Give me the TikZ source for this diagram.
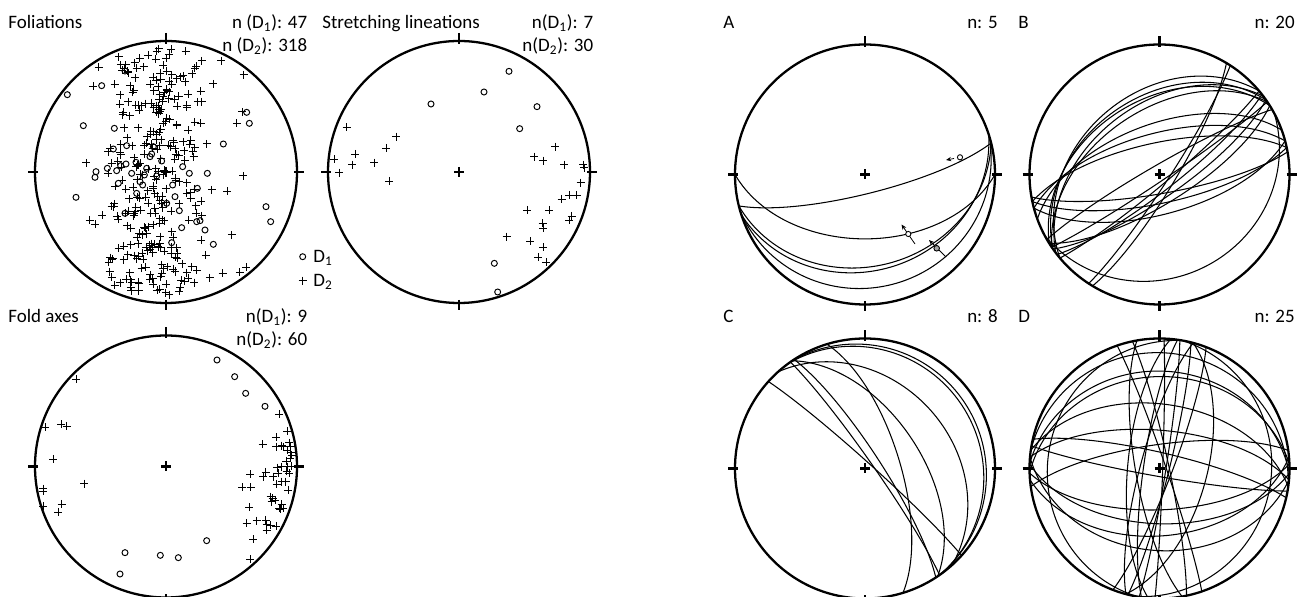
\documentclass[tikz,border=0pt]{standalone}
\usepackage{fontspec}
\setmainfont{Carlito}
\usetikzlibrary{arrows.meta}
\newcommand{\lblfont}{\fontsize{10.8}{13}\selectfont}
% primitive circle with ticks and centre cross
\newcommand{\stereonet}[3]{%
	\begin{scope}[shift={(#1,#2)}]
		\draw[rim] (0,0) circle (#3);
		\draw[rim] (0,-#3-8) -- (0,-#3+3);
		\draw[rim] (0,#3-3) -- (0,#3+7);
		\draw[rim] (-#3-7,0) -- (-#3+3,0);
		\draw[rim] (#3-3,0) -- (#3+7,0);
		\draw[rim] (-5,0) -- (5,0) (0,-5) -- (0,5);
	\end{scope}}
% great circle, lower hemisphere equal area: strike #1, dip #2
\newcommand{\gc}[2]{\draw[gcirc] plot[domain=0:180, samples=90, smooth]
	({\Rr*(cos(\x)*sin(#1)+sin(\x)*cos(#2)*cos(#1))/sqrt(1+sin(\x)*sin(#2))},
	{\Rr*(cos(\x)*cos(#1)-sin(\x)*cos(#2)*sin(#1))/sqrt(1+sin(\x)*sin(#2))});}
% poles: D1 circle, D2 cross
\newcommand{\Done}[2]{\draw[ptline] (#1,#2) circle (3);}
\newcommand{\Dtwo}[2]{\draw[ptline] (#1,#2) +(-4,0) -- +(4,0) +(0,-4) -- +(0,4);}
\tikzset{
	rim/.style={line width=1.3pt},
	gcirc/.style={line width=0.6pt},
	ptline/.style={line width=0.55pt},
	lbl/.style={inner sep=0pt, font=\lblfont},
}
\begin{document}
\begin{tikzpicture}[x=0.02cm, y=-0.02cm]
	%%%%% START %%%%%
	\def\R{131}
	\def\Rr{130}
	\useasboundingbox (0,0) rectangle (1309,597);
	
	\stereonet{166}{172}{\R}
	\stereonet{459}{172}{\R}
	\stereonet{166}{466.5}{\R}
	\stereonet{865}{174.5}{\Rr}
	\stereonet{1159.5}{174.5}{\Rr}
	\stereonet{865}{468.5}{\Rr}
	\stereonet{1159.5}{468.5}{\Rr}
	
	% titles and counts
	\node[lbl, anchor=base west] (folTitle) at (8,28.5) {Foliations};
	\node[lbl, anchor=base east] (folNone) at (307.5,28.5) {n (D\textsubscript{1}): 47};
	\node[lbl, anchor=base east] (folNtwo) at (307.5,51.5) {n (D\textsubscript{2}): 318};
	\node[lbl, anchor=base west] (strTitle) at (322,28.5) {Stretching lineations};
	\node[lbl, anchor=base east] (strNone) at (593.5,28.5) {n(D\textsubscript{1}): 7};
	\node[lbl, anchor=base east] (strNtwo) at (593.5,51.5) {n(D\textsubscript{2}): 30};
	\node[lbl, anchor=base west] (fldTitle) at (8,322.5) {Fold axes};
	\node[lbl, anchor=base east] (fldNone) at (307.5,322.5) {n(D\textsubscript{1}): 9};
	\node[lbl, anchor=base east] (fldNtwo) at (307.5,345.5) {n(D\textsubscript{2}): 60};
	\node[lbl, anchor=base west] (aTitle) at (723,28.5) {A};
	\node[lbl, anchor=base east] (aN) at (998,28.5) {n: 5};
	\node[lbl, anchor=base west] (bTitle) at (1018,28.5) {B};
	\node[lbl, anchor=base east] (bN) at (1295,28.5) {n: 20};
	\node[lbl, anchor=base west] (cTitle) at (723,322.5) {C};
	\node[lbl, anchor=base east] (cN) at (998,322.5) {n: 8};
	\node[lbl, anchor=base west] (dTitle) at (1018,322.5) {D};
	\node[lbl, anchor=base east] (dN) at (1295,322.5) {n: 25};
	
	% legend
	\Done{302.7}{256.7}
	\node[lbl, anchor=base west] (legOne) at (313,263) {D\textsubscript{1}};
	\Dtwo{302.7}{280.7}
	\node[lbl, anchor=base west] (legTwo) at (313,286.7) {D\textsubscript{2}};
	
	% foliations, D2 cloud
	\begin{scope}[shift={(166,172)}]
		\pgfmathsetseed{2718}
		\foreach \i in {1,...,318}{
			\pgfmathsetmacro\fy{0.94*rand}
			\pgfmathsetmacro\fx{ifthenelse(mod(\i,10)==0, 0.72*rand, -0.06-0.05*(\fy)+0.22*(rand+rand))}
			\pgfmathsetmacro\fs{min(1,0.95/max(sqrt(\fx*\fx+\fy*\fy),0.01))}
			\Dtwo{\fs*\fx*\R}{\fs*\fy*\R}
		}
	\end{scope}
	% foliations, D1
	\foreach \zx/\zy in {202/284, 305/257, 375/213, 250/377, 740/337, 748/370,
		670/432, 343/385, 380/437, 340/447, 455/462, 485/483, 408/487, 378/492,
		362/497, 350/512, 322/505, 288/515, 285/532, 548/500, 568/520, 622/520,
		440/505, 433/525, 355/550, 428/555, 592/565, 518/555, 525/590, 228/592,
		798/620, 812/665, 538/632, 545/683, 590/665, 600/662, 615/690, 640/733,
		515/728, 470/528, 420/545, 450/470, 395/520, 460/440, 500/610, 375/640, 410/580}
		{\Done{\zx/3}{\zy/3}}
	
	% stretching lineations
	\foreach \zx/\zy in {597/214, 522/276, 363/312, 681/320, 629/386, 553/790, 563/876}
		{\Done{310+\zx/3}{\zy/3}}
	\foreach \zx/\zy in {110/382, 258/410, 228/444, 135/462, 72/478, 127/494,
		193/488, 88/518, 238/543, 735/440, 673/470, 700/482, 763/494, 820/494,
		822/503, 812/548, 778/585, 800/585, 755/597, 652/630, 718/630, 785/648,
		778/660, 698/670, 700/684, 590/710, 660/724, 700/742, 685/772, 708/787}
		{\Dtwo{310+\zx/3}{\zy/3}}
	
	% fold axes
	\foreach \zx/\zy in {651/180, 704/230, 737/280, 795/319, 620/722, 375/758,
		481/766, 535/773, 360/822}
		{\Done{\zx/3}{300+\zy/3}}
	\foreach \zx/\zy in {228/238, 135/382, 183/373, 200/378, 160/477, 253/551,
		130/566, 130/574, 185/612, 130/618, 175/636, 838/342, 862/394, 828/412,
		788/433, 828/440, 845/437, 868/428, 862/450, 872/458, 875/465, 845/500,
		862/500, 875/498, 832/503, 860/513, 750/523, 797/516, 790/530, 820/530,
		868/520, 845/545, 857/545, 830/553, 865/570, 727/562, 752/562, 818/595,
		825/600, 815/605, 845/613, 850/625, 840/628, 748/622, 740/670, 770/662,
		797/660, 800/672, 812/675, 828/678, 800/690, 760/718, 750/778, 870/475,
		858/483, 850/440, 838/625, 812/590, 835/520, 872/438}
		{\Dtwo{\zx/3}{300+\zy/3}}
	
	% A
	\begin{scope}[shift={(865,174.5)}, y=0.02cm]
		\foreach \s/\d in {76/78, 90/49, 76/30, 72/27, 73/14}{\gc{\s}{\d}}
	\end{scope}
	\draw[line width=0.45pt, -{Stealth[length=3pt,width=2.5pt]}] (954,158.5) -- (946,160);
	\draw[line width=0.45pt, {Stealth[length=3pt,width=2.5pt]}-] (901.5,224.5) -- (915,244);
	\draw[line width=0.45pt, {Stealth[length=3pt,width=2.5pt]}-] (929,240) -- (946,257);
	\draw[line width=0.5pt, fill=white] (960,157.3) circle (2.6);
	\draw[line width=0.5pt, fill=white] (908.3,234) circle (2.6);
	\draw[line width=0.5pt, fill=black!35] (936.7,248.3) circle (2.8);
	
	% B
	\begin{scope}[shift={(1159.5,174.5)}, y=0.02cm]
		\foreach \s/\d in {235/40, 233/45, 238/42, 230/37, 236/49, 250/58, 255/64, 258/70,
			52/80, 55/76, 58/72, 50/84, 56/86, 78/72, 75/65, 80/78, 33/84, 31/80, 62/22, 240/84}{\gc{\s}{\d}}
	\end{scope}
	
	% C
	\begin{scope}[shift={(865,468.5)}, y=0.02cm]
		\foreach \s/\d in {312/86, 325/85, 327/80, 318/33, 343/68, 326/9, 324/12, 326/55}{\gc{\s}{\d}}
	\end{scope}
	
	% D
	\begin{scope}[shift={(1159.5,468.5)}, y=0.02cm]
		\foreach \s/\d in {341/86, 348/84, 2/88, 9/86, 14/84, 21/82, 188/80, 195/78, 170/75,
			272/26, 268/30, 278/49, 275/66, 88/64, 92/55, 85/47, 95/37, 283/80, 100/85,
			262/75, 278/12, 10/15, 190/15, 185/70, 15/60}{\gc{\s}{\d}}
	\end{scope}
	%%%%% END %%%%%
\end{tikzpicture}
\end{document}
